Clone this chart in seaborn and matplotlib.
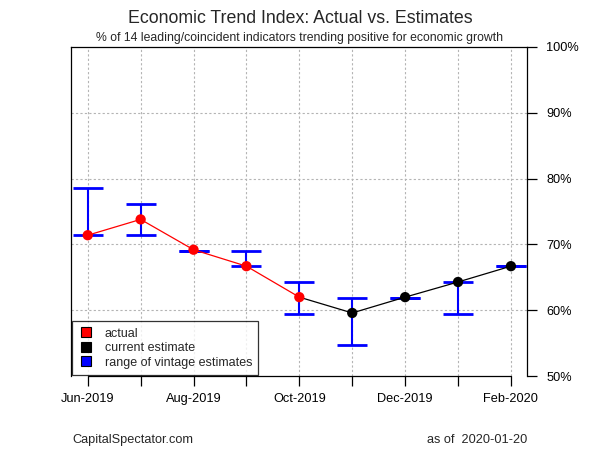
import pandas as pd
import matplotlib
matplotlib.use('Agg')
import matplotlib.pyplot as plt
from matplotlib.lines import Line2D
from matplotlib.ticker import FuncFormatter
import seaborn as sns

# chart values
months = ['Jun-2019', 'Jul-2019', 'Aug-2019', 'Sep-2019', 'Oct-2019',
          'Nov-2019', 'Dec-2019', 'Jan-2020', 'Feb-2020']
index_value = [71.4, 73.8, 69.2, 66.7, 62.0, 59.6, 62.0, 64.3, 66.7]
kind = ['actual'] * 5 + ['current estimate'] * 4
range_low = [71.4, 71.4, 69.0, 66.7, 59.5, 54.8, 61.9, 59.5, 66.7]
range_high = [78.6, 76.2, 69.0, 69.0, 64.3, 61.9, 61.9, 64.3, 66.7]
y_ticks = [50, 60, 70, 80, 90, 100]

sns.set_style('white')
plt.rcParams['font.family'] = ['Liberation Sans', 'DejaVu Sans']


def build_frame():
    df = pd.DataFrame({'month': months, 'value': index_value, 'kind': kind,
                       'low': range_low, 'high': range_high})
    df['pos'] = range(len(df))
    return df


def plot_trend(df):
    fig = plt.figure(figsize=(6, 4.5), dpi=100)
    ax = fig.add_axes([0.118, 0.164, 0.76, 0.732])

    # grid
    for p in df['pos']:
        ax.axvline(p, color='#b4b4b4', lw=0.8, ls=(0, (2, 2)), zorder=0)
    for y in y_ticks[1:-1]:
        ax.axhline(y, color='#b4b4b4', lw=0.8, ls=(0, (2, 2)), zorder=0)

    # range of vintage estimates
    ax.errorbar(df['pos'], df['low'], yerr=[[0] * len(df), df['high'] - df['low']],
                fmt='none', ecolor='blue', elinewidth=1.5, capsize=11,
                capthick=2, zorder=2)

    act = df[df['kind'] == 'actual']
    est = df.iloc[len(act) - 1:]
    sns.lineplot(x='pos', y='value', data=act, color='red', lw=0.9,
                 ax=ax, zorder=3)
    sns.lineplot(x='pos', y='value', data=est, color='black', lw=0.9,
                 ax=ax, zorder=3)
    sns.scatterplot(x='pos', y='value', data=df[df['kind'] == 'current estimate'],
                    color='black', s=55, edgecolor='none', ax=ax, zorder=4)
    sns.scatterplot(x='pos', y='value', data=act, color='red', s=55,
                    edgecolor='none', ax=ax, zorder=5)

    ax.set_xlim(-0.32, 8.3)
    ax.set_ylim(50, 100)
    ax.set_xlabel('')
    ax.set_ylabel('')

    ax.set_xticks(df['pos'])
    ax.set_xticklabels([m if i % 2 == 0 else '' for i, m in enumerate(months)])
    ax.yaxis.tick_right()
    ax.set_yticks(y_ticks)
    ax.yaxis.set_major_formatter(FuncFormatter(lambda v, _: f'{v:.0f}%'))
    ax.tick_params(axis='x', bottom=True, direction='out', length=7, width=0.9,
                   labelsize=9.2, colors='black', pad=5)
    ax.tick_params(axis='y', right=True, left=False, direction='out', length=7,
                   width=0.9, labelsize=9.2, colors='black', pad=7)
    ax.spines['bottom'].set_visible(False)
    for s in ['top', 'left', 'right']:
        ax.spines[s].set_color('black')
        ax.spines[s].set_linewidth(0.9)
    ax.plot([0, 8], [0, 0], transform=ax.get_xaxis_transform(),
            color='black', lw=0.9, clip_on=False)

    handles = [Line2D([], [], ls='none', marker='s', markersize=7,
                      markerfacecolor=c, markeredgecolor='black', markeredgewidth=0.8)
               for c in ['red', 'black', 'blue']]
    leg = ax.legend(handles, ['actual', 'current estimate', 'range of vintage estimates'],
                    loc='lower left', bbox_to_anchor=(0, 0), fontsize=9,
                    frameon=True, fancybox=False, handlelength=1.2,
                    handletextpad=0.9, labelspacing=0.2, borderpad=0.5,
                    borderaxespad=0.1)
    leg.get_frame().set_edgecolor('black')
    leg.get_frame().set_linewidth(0.9)

    fig.text(0.5, 0.958, 'Economic Trend Index: Actual vs. Estimates',
             ha='center', va='center', fontsize=12.8)
    fig.text(0.5, 0.915, '% of 14 leading/coincident indicators trending positive for economic growth',
             ha='center', va='center', fontsize=8.8)
    fig.text(0.12, 0.022, 'CapitalSpectator.com', ha='left', va='center', fontsize=9.2)
    fig.text(0.878, 0.022, 'as of  2020-01-20', ha='right', va='center', fontsize=9.2)

    fig.savefig('out.png', dpi=100)


def main():
    df = build_frame()
    plot_trend(df)


if __name__ == '__main__':
    main()
